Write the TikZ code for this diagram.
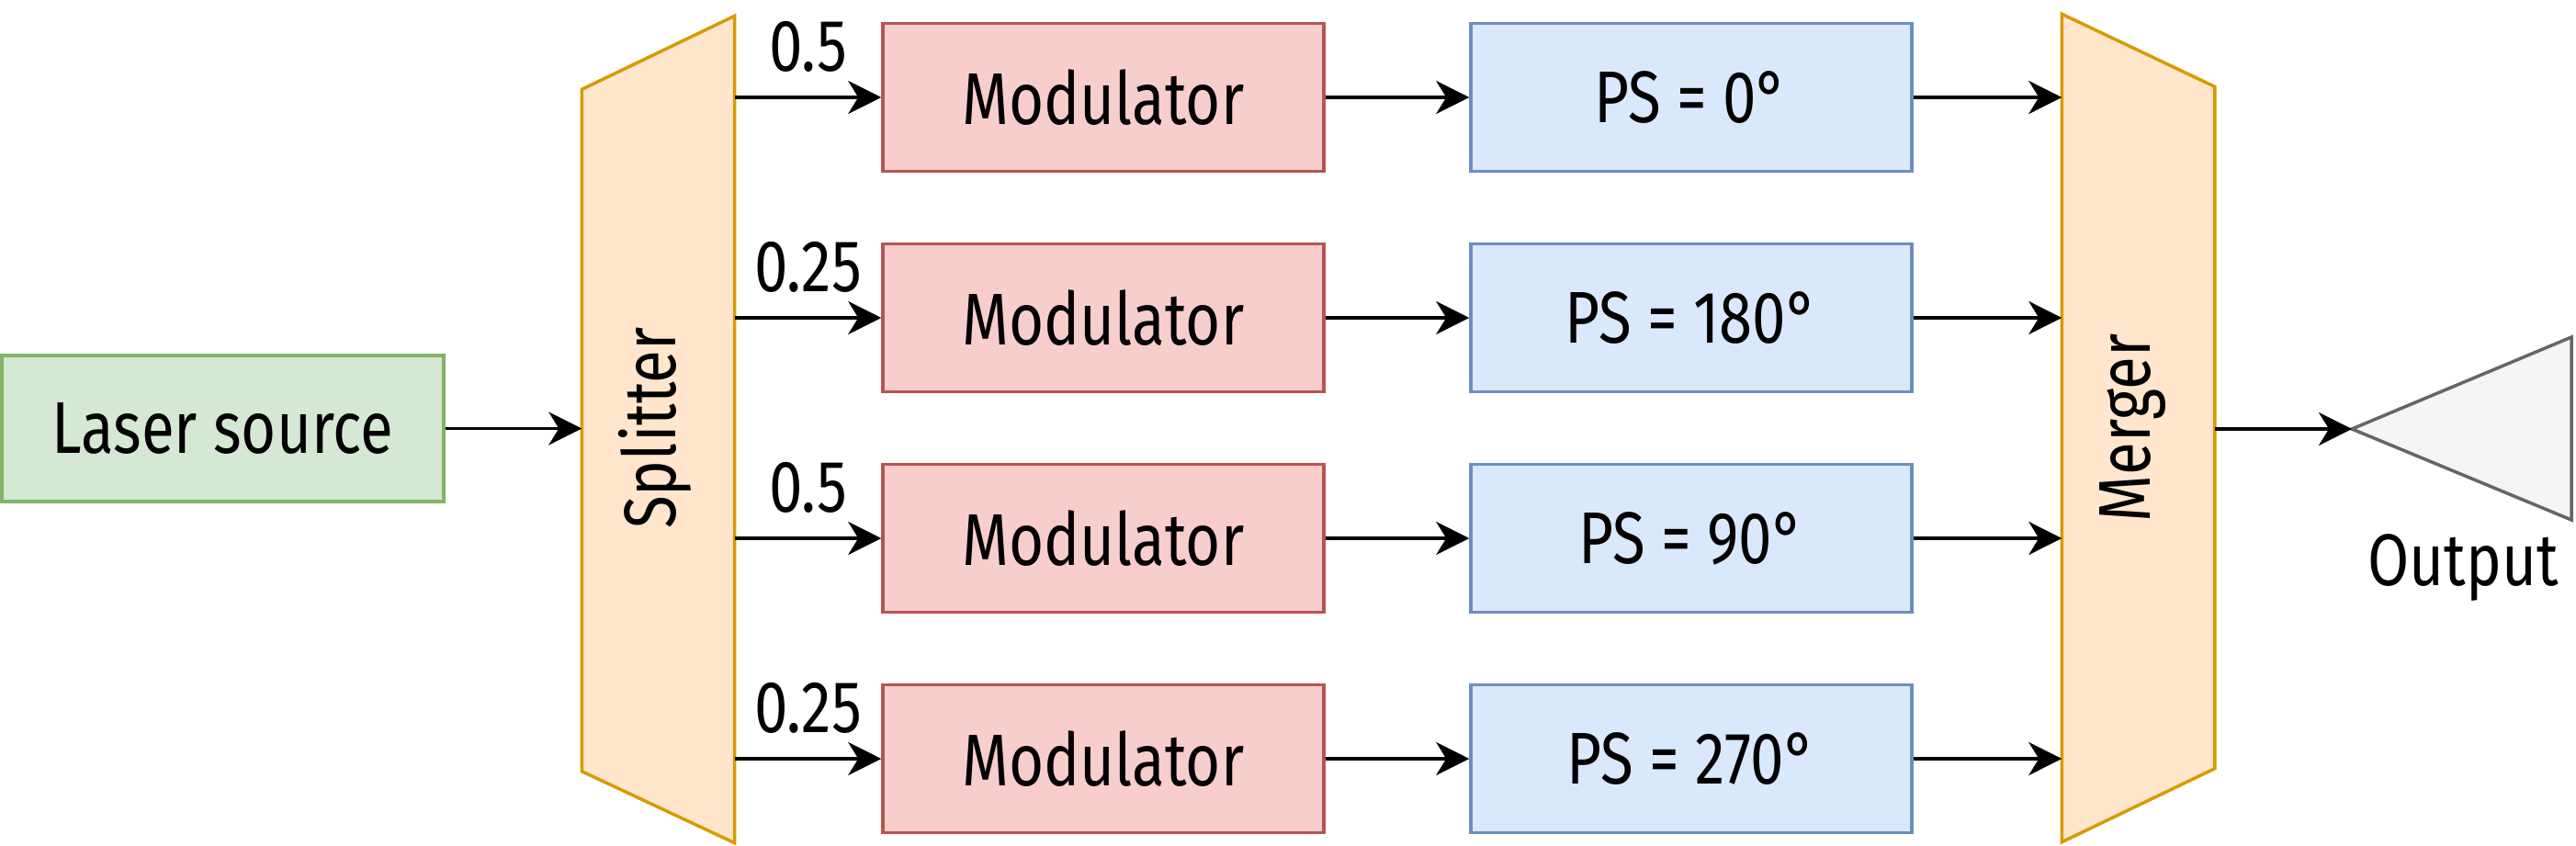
\documentclass[tikz,border=0pt]{standalone}
\usepackage{fontspec}
\setmainfont[FakeStretch=0.82]{Fira Sans}
\usetikzlibrary{positioning,calc,arrows.meta}
\definecolor{LaserFill}{HTML}{D5E8D4}
\definecolor{LaserLine}{HTML}{82B366}
\definecolor{SplitFill}{HTML}{FFE6CC}
\definecolor{SplitLine}{HTML}{D79B00}
\definecolor{ModFill}{HTML}{F8CECC}
\definecolor{ModLine}{HTML}{B85450}
\definecolor{PsFill}{HTML}{DAE8FC}
\definecolor{PsLine}{HTML}{6C8EBF}
\definecolor{OutFill}{HTML}{F5F5F5}
\definecolor{OutLine}{HTML}{666666}

\begin{document}
\begin{tikzpicture}[x=1cm,y=1cm,
  box/.style={draw,line width=1pt,minimum width=4.8cm,minimum height=1.61cm},
  modbox/.style={box,fill=ModFill,draw=ModLine},
  psbox/.style={box,fill=PsFill,draw=PsLine},
  arr/.style={-{Stealth[length=3.6mm,width=3.6mm,inset=1.1mm]},line width=1.1pt},
  every node/.style={font=\fontsize{22.7}{27}\selectfont}]
\useasboundingbox (0,0) rectangle (28.04,9.2);
\node[box,fill=LaserFill,draw=LaserLine,minimum width=4.81cm,minimum height=1.59cm] (laser) at (2.425,4.535) {Laser source};
\node[minimum width=1.65cm,minimum height=8.99cm,inner sep=0pt] (split) at (7.165,4.525) {};
\filldraw[fill=SplitFill,draw=SplitLine,line width=1pt] (split.north east) -- (split.south east)
 -- ([yshift=0.78cm]split.south west) -- ([yshift=-0.8cm]split.north west) -- cycle;
\node[rotate=90] (splittxt) at (7.13,4.54) {Splitter};
\node[modbox] (mod1) at (12.01,8.14) {Modulator};
\node[modbox] (mod2) at (12.01,5.74) {Modulator};
\node[modbox] (mod3) at (12.01,3.34) {Modulator};
\node[modbox] (mod4) at (12.01,0.94) {Modulator};
\node[psbox] (ps1) at (18.41,8.14) {PS = 0°};
\node[psbox] (ps2) at (18.41,5.74) {PS = 180°};
\node[psbox] (ps3) at (18.41,3.34) {PS = 90°};
\node[psbox] (ps4) at (18.41,0.94) {PS = 270°};
\node[minimum width=1.65cm,minimum height=9cm,inner sep=0pt] (merge) at (23.275,4.54) {};
\filldraw[fill=SplitFill,draw=SplitLine,line width=1pt] (merge.north west) -- (merge.south west)
 -- ([yshift=0.8cm]merge.south east) -- ([yshift=-0.79cm]merge.north east) -- cycle;
\node[rotate=90] (mergetxt) at (23.21,4.54) {Merger};
\coordinate (outtip) at (25.60,4.53);
\filldraw[fill=OutFill,draw=OutLine,line width=1pt] (outtip) -- (27.99,5.53) -- (27.99,3.54) -- cycle;
\node (outlbl) at (26.81,3.02) {Output};
\draw[arr] (laser.east) -- (laser.east -| split.west);
\draw[arr] (split.east |- mod1.west) -- (mod1.west) node[midway,above=4pt] (w1) {0.5};
\draw[arr] (split.east |- mod2.west) -- (mod2.west) node[midway,above=4pt] (w2) {0.25};
\draw[arr] (split.east |- mod3.west) -- (mod3.west) node[midway,above=4pt] (w3) {0.5};
\draw[arr] (split.east |- mod4.west) -- (mod4.west) node[midway,above=4pt] (w4) {0.25};
\draw[arr] (mod1) -- (ps1);
\draw[arr] (mod2) -- (ps2);
\draw[arr] (mod3) -- (ps3);
\draw[arr] (mod4) -- (ps4);
\draw[arr] (ps1.east) -- (ps1.east -| merge.west);
\draw[arr] (ps2.east) -- (ps2.east -| merge.west);
\draw[arr] (ps3.east) -- (ps3.east -| merge.west);
\draw[arr] (ps4.east) -- (ps4.east -| merge.west);
\draw[arr] (merge.east |- outtip) -- (outtip);
\end{tikzpicture}
\end{document}
